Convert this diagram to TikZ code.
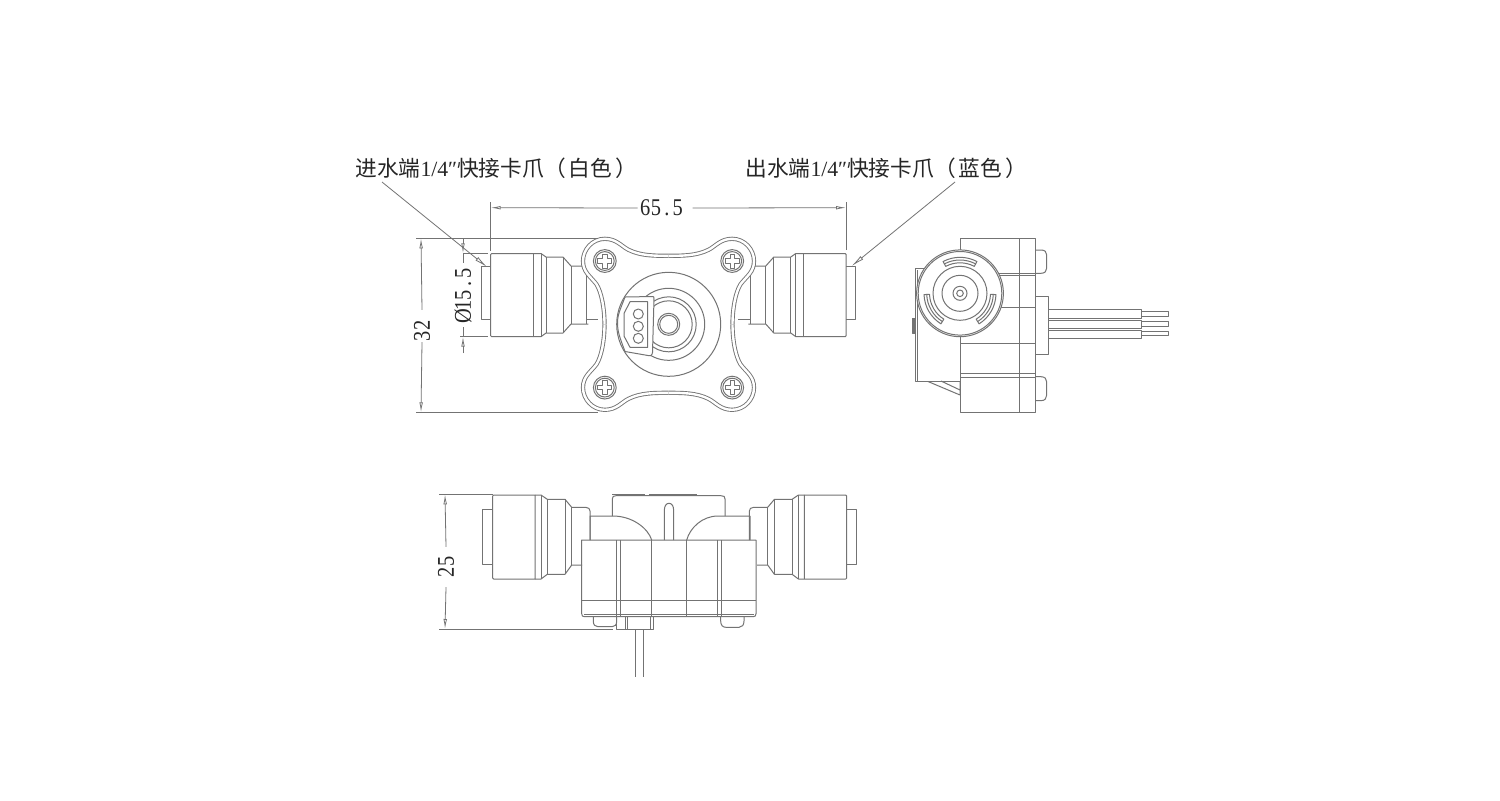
\documentclass[tikz,border=0pt]{standalone}
\usepackage{fontspec}
\usetikzlibrary{arrows.meta}
\setmainfont{Liberation Serif}
\newfontfamily\cjk{Noto Sans CJK SC}
\newfontfamily\dimf{Liberation Serif}[FakeStretch=0.85]
\newcommand{\hw}[1]{\makebox[5.4pt][c]{#1}}
\tikzset{
  ln/.style={draw=black!55,line width=0.5pt,line join=round},
  dim/.style={draw=black!55,line width=0.4pt},
  tipa/.style={-{Latex[open,length=5pt,width=1.8pt]}},
  tipb/.style={-{Latex[open,length=6.5pt,width=2.2pt]}},
  dimtext/.style={text=black!85,font=\fontsize{12pt}{12pt}\dimf,inner sep=0pt},
  lbl/.style={text=black!85,font=\fontsize{10.85pt}{11pt}\selectfont,inner sep=0pt,anchor=west},
}
\begin{document}
\begin{tikzpicture}[x=0.5pt,y=-0.5pt]
\useasboundingbox (0,0) rectangle (1500,800);
\fill[white] (0,0) rectangle (1500,800);

% ---------- front view: quick connectors
\foreach \mx in {1,-1}{
\begin{scope}[shift={(668.4,0)},xscale=\mx]
 \draw[ln] (-177.7,266) -- (-187.4,266) -- (-187.4,319) -- (-177.7,319);
 \draw[ln] (-135.4,253.5) -- (-176.7,253.5) -- (-177.7,254.5) -- (-177.7,335.7) -- (-176.7,336.7) -- (-135.4,336.7);
 \draw[ln] (-135.4,253.5) -- (-135.4,336.7);
 \draw[ln] (-135.4,253.5) -- (-127.4,253.5) -- (-122.4,257) -- (-105.4,257) -- (-97.4,266) -- (-80,266);
 \draw[ln] (-135.4,336.7) -- (-127.4,336.7) -- (-122.4,333) -- (-105.4,333) -- (-97.4,324) -- (-80,324);
 \draw[ln] (-127.4,253.5) -- (-127.4,336.7) (-122.4,257) -- (-122.4,333) (-105.4,257) -- (-105.4,333) (-97.4,266) -- (-97.4,324) (-82.4,266) -- (-82.4,324);
 \draw[ln] (-82.4,319) -- (-70,319);
\end{scope}}

% ---------- flange
\foreach \sx in {1,-1}{\foreach \sy in {1,-1}{
\begin{scope}[shift={(668.5,324.3)},xscale=\sx,yscale=\sy]
 \fill[white] (0,-68.5) .. controls (14,-68.5) and (28,-68.5) .. (40,-74.5) .. controls (47,-78) and (52,-85.5) .. (63.7,-85.5) .. controls (76,-85.5) and (85.5,-75) .. (85.5,-63.3) .. controls (85.5,-52) and (78,-48) .. (72,-40) .. controls (67,-32) and (64,-16) .. (64,0) -- (0,0) -- cycle;
 \draw[draw=black!55,line width=0.45pt,double=white,double distance=1.2pt] (0,-68.5) .. controls (14,-68.5) and (28,-68.5) .. (40,-74.5) .. controls (47,-78) and (52,-85.5) .. (63.7,-85.5) .. controls (76,-85.5) and (85.5,-75) .. (85.5,-63.3) .. controls (85.5,-52) and (78,-48) .. (72,-40) .. controls (67,-32) and (64,-16) .. (64,0);
 % screw
 \begin{scope}[shift={(63.7,-63.3)}]
  \draw[ln] (0,0) circle (11.4);
  \draw[ln] (0,0) circle (9.4);
  \draw[ln] (-2.2,-7) -- (2.2,-7) -- (2.2,-2.2) -- (7,-2.2) -- (7,2.2) -- (2.2,2.2) -- (2.2,7) -- (-2.2,7) -- (-2.2,2.2) -- (-7,2.2) -- (-7,-2.2) -- (-2.2,-2.2) -- cycle;
 \end{scope}
\end{scope}}}

% ---------- flange centre
\draw[ln] (668.7,324.3) circle (52);
\draw[ln] (668.7,324.3) circle (36);
\draw[ln] (668.7,324.3) circle (27.5);
\draw[ln] (668.7,324.3) circle (23.5);
\draw[ln] (668.7,324.3) circle (11);
\draw[ln] (668.7,324.3) circle (9);
\draw[ln,fill=white] (652.7,296.5) .. controls (654,296.5) and (654,297) .. (654,299) -- (652.5,352.5) .. controls (652,356) and (650,356) .. (648,355.5) -- (625,351.5) .. controls (620,338) and (617.5,332) .. (617.5,323) .. controls (617.5,315) and (620,310) .. (625,297) -- cycle;
\draw[ln] (647.7,301.7) -- (630,301.7) -- (624,313.5) -- (624,336) -- (630,347.3) -- (647.7,347.3) -- cycle;
\foreach \cy in {314,326.3,338.3}{\draw[ln] (638.3,\cy) circle (5);}

% ---------- side view
\draw[ln] (960,238.3) rectangle (1035.7,412.3);
\draw[ln] (1019.3,238.3) -- (1019.3,412.3);
\draw[ln] (960,273.3) -- (1035.7,273.3) (960,275) -- (1035.7,275) (960,307.3) -- (1035.7,307.3);
\draw[ln] (960,343.3) -- (1035.7,343.3) (960,373) -- (1035.7,373) (960,377.7) -- (1035.7,377.7);
\draw[ln,fill=white] (960,381) -- (915.7,381) -- (915.7,268) -- (925,268);
\draw[ln] (917.3,270) -- (917.3,381);
\draw[ln] (960,381) -- (960,395) (928,381.5) -- (960,395) (941,381) -- (960,390);
\draw[ln,fill=black!55] (912.7,318) rectangle (915.7,333);
\draw[ln] (1035.7,250) -- (1041,250) .. controls (1045,250) and (1046.7,252) .. (1046.7,255) -- (1046.7,268) .. controls (1046.7,271) and (1045,273.3) .. (1041,273.3) -- (1035.7,273.3);
\draw[ln] (1035.7,376.7) -- (1041,376.7) .. controls (1045,376.7) and (1046.7,379) .. (1046.7,382) -- (1046.7,395) .. controls (1046.7,398) and (1045,400.7) .. (1041,400.7) -- (1035.7,400.7);
\draw[ln] (1035.7,296) -- (1048.3,296) -- (1048.3,354.3) -- (1035.7,354.3);
\draw[ln] (1048.3,309.3) rectangle (1141.7,318.3);
\draw[ln] (1048.3,320.7) rectangle (1141.7,328.3);
\draw[ln] (1048.3,330.3) rectangle (1141.7,338.3);
\draw[ln] (1141.7,311.7) rectangle (1168.3,316);
\draw[ln] (1141.7,321.7) rectangle (1168.3,326);
\draw[ln] (1141.7,331) rectangle (1168.3,335.7);
\draw[ln,fill=white] (960,293.3) circle (43.4);
\draw[ln] (960,293.3) circle (41.8);
\draw[ln] (960,293.3) circle (27);
\draw[ln] (960,293.3) circle (18);
\draw[ln] (960,293.3) circle (7);
\draw[ln] (960,293.3) circle (3.3);
\foreach \a in {90,210,330}{
 \begin{scope}[shift={(960,293.3)},rotate=\a]
  \draw[ln] ({36*cos(-28)},{36*sin(-28)}) arc[start angle=-28,end angle=28,radius=36] -- ({30.5*cos(28)},{30.5*sin(28)}) arc[start angle=28,end angle=-28,radius=30.5] -- cycle;
  \draw[ln] ({33.3*cos(-28)},{33.3*sin(-28)}) arc[start angle=-28,end angle=28,radius=33.3];
 \end{scope}}

% ---------- bottom view: body and box
\draw[ln] (612.3,516) -- (612.3,499) .. controls (612.3,496.5) and (613.5,495.7) .. (616,495.7) -- (721,495.7) .. controls (724,495.7) and (725,496.5) .. (725,499) -- (725,516);
\draw[ln,line width=0.9pt] (649,494.5) -- (696.7,494.5);
\draw[ln] (612.3,494.5) -- (645,494.5);
\draw[ln] (664.3,540) -- (664.3,511) .. controls (664.3,506) and (666,503.3) .. (669,503.3) .. controls (672,503.3) and (673.7,506) .. (673.7,511) -- (673.7,540);
\draw[ln] (590,540) -- (590,516) -- (613,516) .. controls (632,516) and (648,528) .. (651.7,540);
\draw[ln] (750,540) -- (750,516) -- (718,516) .. controls (702,516) and (690,528) .. (686.7,540);
\draw[ln] (581.7,540) -- (756,540) -- (756,613.7) .. controls (756,616) and (755,616.7) .. (753,616.7) -- (584.7,616.7) .. controls (582.7,616.7) and (581.7,616) .. (581.7,613.7) -- (581.7,540) -- cycle;
\draw[ln] (581.7,600) -- (756,600);
\draw[ln] (584,614.3) -- (754,614.3);
\foreach \vx in {616,620,651.7,686.7,717.7,721}{\draw[ln] (\vx,540) -- (\vx,616.7);}
\draw[ln] (593.3,616.7) -- (593.3,621) .. controls (593.3,625) and (595,626.7) .. (598,626.7) -- (612,626.7) .. controls (615,626.7) and (616.7,625) .. (616.7,621) -- (616.7,616.7);
\draw[ln] (720.7,616.7) -- (720.7,621) .. controls (720.7,625) and (722.5,627.3) .. (726,627.3) -- (739,627.3) .. controls (742,627.3) and (744,625) .. (744,621) -- (744,616.7);
\draw[ln] (616.7,616.7) rectangle (653.3,629.3);
\draw[ln] (625,616.7) -- (625,629.3) (627.3,616.7) -- (627.3,629.3);
\draw[ln] (650.5,616.7) -- (650.5,629.3);
\draw[ln] (635,629.3) -- (635,677) (643.3,629.3) -- (643.3,677);

% ---------- bottom view: connectors
\foreach \mx in {1,-1}{
\begin{scope}[shift={(669.7,0)},xscale=\mx]
 \draw[ln] (-177,509.3) -- (-187,509.3) -- (-187,564.3) -- (-177,564.3);
 \draw[ln] (-134.7,495) -- (-176,495) -- (-177,496) -- (-177,578) -- (-176,579) -- (-134.7,579) -- cycle;
 \draw[ln] (-134.7,495) -- (-128.7,495) -- (-122.4,499.3) -- (-104.7,499.3) -- (-98,507.3) -- (-84,507.3) .. controls (-81,507.3) and (-79.7,509) .. (-79.7,511) -- (-79.7,540);
 \draw[ln] (-134.7,579) -- (-128.7,579) -- (-122.4,574.3) -- (-104.7,574.3) -- (-98,565) -- (-87.5,565);
 \draw[ln] (-128.7,495) -- (-128.7,579) (-122.4,499.3) -- (-122.4,574.3) (-104.7,499.3) -- (-104.7,574.3) (-98,507.3) -- (-98,565);
\end{scope}}

% ---------- dimension 65.5
\coordinate (wL) at (490.7,207.7); \coordinate (wR) at (846,207.7);
\node[dimtext] (w) at (661.5,208) {\hw{6}\hw{5}\hw{.}\hw{5}};
\draw[dim,tipa] (w.west) ++(-2,0) -- (wL);
\draw[dim,tipa] (w.east) ++(9,0) -- (wR);
\coordinate (wLa) at (490.7,202); \coordinate (wLb) at (490.7,251);
\coordinate (wRa) at (846,202); \coordinate (wRb) at (846,250);
\draw[dim] (wLa) -- (wLb);
\draw[dim] (wRa) -- (wRb);

% ---------- dimension 32
\coordinate (hT) at (421,238.3); \coordinate (hB) at (421,412.3);
\coordinate (e1a) at (416,238.3); \coordinate (e1b) at (598,238.3);
\coordinate (e2a) at (416,412.3); \coordinate (e2b) at (598,412.3);
\draw[ln] (e1a) -- (e1b);
\draw[ln] (e2a) -- (e2b);
\node[dimtext,rotate=90] (h) at (422,331) {\hw{3}\hw{2}};
\draw[dim,tipa] (h.east) ++(0,-10) -- (hT);
\draw[dim,tipa] (h.west) ++(0,0) -- (hB);

% ---------- dimension dia 15.5
\coordinate (dT) at (463,253.3); \coordinate (dB) at (463,336.7);
\coordinate (dTa) at (463,238.3); \coordinate (dBa) at (463,353);
\coordinate (dTe) at (463,263); \coordinate (dBe) at (463,327);
\coordinate (x1a) at (463,253.3); \coordinate (x1b) at (488,253.3);
\coordinate (x2a) at (460,336.7); \coordinate (x2b) at (488,336.7);
\draw[dim] (x1a) -- (x1b);
\draw[dim] (x2a) -- (x2b);
\draw[dim,tipa] (dTa) -- (dT);
\draw[dim,tipa] (dBa) -- (dB);
\draw[dim] (dT) -- (dTe);
\draw[dim] (dB) -- (dBe);
\node[dimtext,rotate=90] (d) at (463,295) {\hw{Ø}\hw{1}\hw{5}\hw{.}\hw{5}};

% ---------- dimension 25
\coordinate (bT) at (445,494.3); \coordinate (bB) at (445,629);
\coordinate (e3a) at (439.3,494.3); \coordinate (e3b) at (493,494.3);
\coordinate (e4a) at (439.3,629); \coordinate (e4b) at (612.7,629);
\draw[ln] (e3a) -- (e3b);
\draw[ln] (e4a) -- (e4b);
\node[dimtext,rotate=90] (b) at (446,567) {\hw{2}\hw{5}};
\draw[dim,tipa] (b.east) ++(0,-9) -- (bT);
\draw[dim,tipa] (b.west) ++(0,9) -- (bB);

% ---------- labels and leaders
\node[lbl] (tl) at (355,168) {{\cjk 进水端}1/4″{\cjk 快接卡爪（\kern1.5pt白色\kern1.5pt）}};
\node[lbl] (tr) at (745,168) {{\cjk 出水端}1/4″{\cjk 快接卡爪（\kern1.5pt蓝色\kern1.5pt）}};
\coordinate (ll0) at (382,182); \coordinate (ll1) at (487,267);
\coordinate (rl0) at (955,182); \coordinate (rl1) at (851.7,266);
\draw[dim,tipb] (ll0) -- (ll1);
\draw[dim,tipb] (rl0) -- (rl1);
\end{tikzpicture}
\end{document}
